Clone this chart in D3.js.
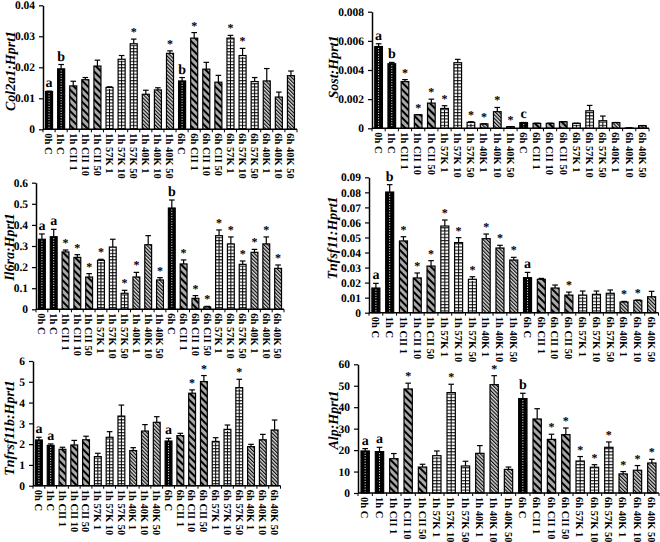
<!DOCTYPE html>
<html><head><meta charset="utf-8">
<script src="https://cdn.jsdelivr.net/npm/d3@7"></script>
<style>body{margin:0;background:#fff;-webkit-font-smoothing:antialiased}svg{text-rendering:geometricPrecision}text{font-family:"Liberation Serif","Times New Roman",serif;font-weight:bold;fill:#000}</style>
</head><body>
<svg id="c" width="660" height="542"></svg>
<script>
const categories = ["0h C","1h C","1h CII 1","1h CII 10","1h CII 50","1h 57K 1","1h 57K 10","1h 57K 50","1h 40K 1","1h 40K 10","1h 40K 50","6h C","6h CII 1","6h CII 10","6h CII 50","6h 57K 1","6h 57K 10","6h 57K 50","6h 40K 1","6h 40K 10","6h 40K 50"];

const col2a1Values = [0.0122,0.0195,0.0140,0.0160,0.0204,0.0135,0.0226,0.0276,0.0113,0.0127,0.0245,0.0156,0.0294,0.0194,0.0152,0.0294,0.0238,0.0154,0.0156,0.0104,0.0173];
const col2a1ErrTop = [0.0123,0.0209,0.0155,0.0167,0.0223,0.0137,0.0238,0.0291,0.0126,0.0134,0.0253,0.0167,0.0312,0.0216,0.0174,0.0303,0.0261,0.0167,0.0196,0.0120,0.0188];
const col2a1Marks = ["a","b","","","","","","*","","","*","b","*","","","*","*","","","",""];
const col2a1Ticks = [0,0.01,0.02,0.03,0.04];

const sostValues = [0.00561,0.00443,0.00320,0.00093,0.00173,0.00136,0.00450,0.00041,0.00030,0.00114,0.00011,0.00039,0.00034,0.00034,0.00045,0.00034,0.00120,0.00052,0.00039,0.00002,0.00018];
const sostErrTop = [0.00580,0.00452,0.00334,0.00094,0.00200,0.00155,0.00473,0.00045,0.00031,0.00143,0.00012,0.00040,0.00035,0.00035,0.00046,0.00035,0.00157,0.00084,0.00040,0.00003,0.00019];
const sostMarks = ["a","b","*","*","*","*","","*","*","*","*","c","","","","","","","","",""];
const sostTicks = [0,0.002,0.004,0.006,0.008];

const il6raValues = [0.332,0.344,0.272,0.246,0.153,0.232,0.295,0.076,0.153,0.306,0.139,0.480,0.215,0.052,0.011,0.349,0.310,0.213,0.270,0.310,0.194];
const il6raErrTop = [0.357,0.379,0.281,0.259,0.169,0.237,0.332,0.090,0.175,0.349,0.150,0.518,0.234,0.065,0.014,0.376,0.343,0.229,0.284,0.343,0.210];
const il6raMarks = ["a","a","*","*","*","*","","*","*","","*","b","*","*","*","*","*","*","*","*","*"];
const il6raTicks = [0,0.1,0.2,0.3,0.4,0.5,0.6];

const tnfsf11Values = [0.0164,0.0802,0.0477,0.0231,0.0310,0.0576,0.0466,0.0222,0.0492,0.0430,0.0350,0.0233,0.0222,0.0164,0.0117,0.0117,0.0122,0.0129,0.0071,0.0082,0.0106];
const tnfsf11ErrTop = [0.0195,0.0851,0.0505,0.0264,0.0346,0.0616,0.0499,0.0239,0.0523,0.0448,0.0368,0.0268,0.0228,0.0184,0.0137,0.0144,0.0144,0.0151,0.0075,0.0084,0.0142];
const tnfsf11Marks = ["a","b","*","*","*","*","*","*","*","*","*","a","","","*","","","","*","*",""];
const tnfsf11Ticks = [0,0.01,0.02,0.03,0.04,0.05,0.06,0.07,0.08,0.09];

const tnfrsf11bValues = [2.20,1.94,1.75,1.96,2.21,1.40,2.33,3.35,1.69,2.63,3.05,2.15,2.41,4.45,5.01,2.13,2.71,4.72,1.88,2.21,2.68];
const tnfrsf11bErrTop = [2.33,2.01,1.85,2.18,2.38,1.56,2.60,3.88,1.83,2.94,3.32,2.28,2.52,4.61,5.30,2.31,2.92,5.12,1.99,2.47,3.16];
const tnfrsf11bMarks = ["a","a","","","","","","","","","","a","","*","*","","","*","","",""];
const tnfrsf11bTicks = [0,1,2,3,4,5,6];

const alpValues = [19.6,19.3,16.0,48.5,12.1,17.4,46.8,12.6,18.5,50.5,11.0,44.0,34.5,25.0,27.2,14.9,12.0,21.3,8.9,10.6,14.0];
const alpErrTop = [20.7,21.3,18.4,51.2,13.4,19.6,50.7,14.8,22.1,54.7,12.1,46.5,39.3,27.4,30.3,17.0,13.2,23.8,10.0,12.8,15.7];
const alpMarks = ["a","a","","*","","","*","","","*","","b","","*","*","*","*","*","*","*","*"];
const alpTicks = [0,10,20,30,40,50,60];

const panels = [
  {title:"Col2a1:Hprt1", values:col2a1Values, err:col2a1ErrTop, marks:col2a1Marks, ticks:col2a1Ticks,
   x0:43, x1:297, y0:129.3, yTop:5.3, tx:10, ty:71},
  {title:"Sost:Hprt1", values:sostValues, err:sostErrTop, marks:sostMarks, ticks:sostTicks,
   x0:372, x1:649, y0:128.3, yTop:11.7, tx:333, ty:67},
  {title:"Il6ra:Hprt1", values:il6raValues, err:il6raErrTop, marks:il6raMarks, ticks:il6raTicks,
   x0:36, x1:284, y0:309.3, yTop:182.7, tx:9, ty:247},
  {title:"Tnfsf11:Hprt1", values:tnfsf11Values, err:tnfsf11ErrTop, marks:tnfsf11Marks, ticks:tnfsf11Ticks,
   x0:369, x1:658.5, y0:312.7, yTop:177.3, tx:332, ty:238},
  {title:"Tnfrsf11b:Hprt1", values:tnfrsf11bValues, err:tnfrsf11bErrTop, marks:tnfrsf11bMarks, ticks:tnfrsf11bTicks,
   x0:33, x1:280.5, y0:485.7, yTop:361, tx:9, ty:428},
  {title:"Alp:Hprt1", values:alpValues, err:alpErrTop, marks:alpMarks, ticks:alpTicks,
   x0:358, x1:659, y0:493, yTop:364.3, tx:333, ty:420}
];

function groupOf(c){
  if (c.includes("CII")) return "cii";
  if (c.includes("57K")) return "k57";
  if (c.includes("40K")) return "k40";
  return "ctrl";
}

const svg = d3.select("#c");
const defs = svg.append("defs");
let p = defs.append("pattern").attr("id","pCII").attr("patternUnits","userSpaceOnUse")
  .attr("width",5).attr("height",5).attr("patternTransform","rotate(-45)");
p.append("rect").attr("width",5).attr("height",5).attr("fill","#a9a9a9");
p.append("line").attr("x1",1).attr("x2",1).attr("y1",0).attr("y2",5).attr("stroke","#000").attr("stroke-width",2);
p = defs.append("pattern").attr("id","p40K").attr("patternUnits","userSpaceOnUse")
  .attr("width",2.6).attr("height",2.6).attr("patternTransform","rotate(-45)");
p.append("rect").attr("width",2.6).attr("height",2.6).attr("fill","#d8d8d8");
p.append("line").attr("x1",0.6).attr("x2",0.6).attr("y1",0).attr("y2",2.6).attr("stroke","#000").attr("stroke-width",1.1);
p = defs.append("pattern").attr("id","p57K").attr("patternUnits","userSpaceOnUse")
  .attr("width",4).attr("height",3.2);
p.append("rect").attr("width",4).attr("height",3.2).attr("fill","#fff");
p.append("line").attr("x1",0).attr("x2",4).attr("y1",0.6).attr("y2",0.6).attr("stroke","#000").attr("stroke-width",1);

const fills = {ctrl:"#000", cii:"url(#pCII)", k57:"url(#p57K)", k40:"url(#p40K)"};

panels.forEach(P => {
  const g = svg.append("g");
  const x = d3.scaleBand().domain(categories).range([P.x0, P.x1]).paddingInner(0.42).paddingOuter(0.21);
  const maxV = P.ticks[P.ticks.length-1];
  const y = d3.scaleLinear().domain([0, maxV]).range([P.y0, P.yTop]);
  const data = categories.map((c,i)=>({c, v:P.values[i], e:P.err[i], m:P.marks[i], grp:groupOf(c)}));
  const bw = x.bandwidth();

  g.selectAll("rect.bar").data(data).join("rect").attr("class","bar")
    .attr("x", d=>x(d.c)).attr("width", bw)
    .attr("y", d=>y(d.v)).attr("height", d=>y(0)-y(d.v))
    .attr("fill", d=>fills[d.grp]).attr("stroke","#000").attr("stroke-width",1.2);
  g.selectAll("line.ctr").data(data.filter(d=>d.grp==="ctrl" || d.grp==="k57")).join("line").attr("class","ctr")
    .attr("x1", d=>x(d.c)+bw/2).attr("x2", d=>x(d.c)+bw/2)
    .attr("y1", d=>y(d.v)+1.5).attr("y2", y(0)-1)
    .attr("stroke", d=>d.grp==="ctrl" ? "#fff" : "#000")
    .attr("stroke-width", 1)
    .attr("stroke-dasharray", d=>d.grp==="ctrl" ? "1,1.6" : null);

  const eb = data.filter(d=>d.e > d.v);
  g.selectAll("line.ev").data(eb).join("line").attr("class","ev")
    .attr("x1", d=>x(d.c)+bw/2).attr("x2", d=>x(d.c)+bw/2)
    .attr("y1", d=>y(d.v)).attr("y2", d=>y(d.e)).attr("stroke","#000").attr("stroke-width",1.2);
  g.selectAll("line.ec").data(eb).join("line").attr("class","ec")
    .attr("x1", d=>x(d.c)+bw/2-2.8).attr("x2", d=>x(d.c)+bw/2+2.8)
    .attr("y1", d=>y(d.e)).attr("y2", d=>y(d.e)).attr("stroke","#000").attr("stroke-width",1.2);

  g.selectAll("text.mk").data(data.filter(d=>d.m)).join("text").attr("class","mk")
    .attr("x", d=>x(d.c)+bw/2)
    .attr("y", d=>y(Math.max(d.e,d.v)) - (d.m==="*" ? 3 : 4))
    .attr("text-anchor","middle")
    .attr("fill","#000")
    .style("font-size", d=>d.m==="*" ? "12px" : "14px")
    .style("font-weight","bold")
    .text(d=>d.m);

  const ya = d3.axisLeft(y).tickValues(P.ticks).tickSize(4).tickSizeOuter(0).tickFormat(d=>String(d));
  const ag = g.append("g").attr("transform",`translate(${P.x0},0)`).call(ya);
  ag.select(".domain").attr("stroke","#000").attr("stroke-width",1.5);
  ag.selectAll(".tick line").attr("stroke","#000").attr("stroke-width",1.2);
  ag.selectAll(".tick text").attr("x",-8).style("font-size","11.5px").style("font-family",'"Liberation Serif",serif').style("font-weight","bold").attr("fill","#000");

  g.append("line").attr("x1",P.x0).attr("x2",P.x1).attr("y1",y(0)).attr("y2",y(0)).attr("stroke","#000").attr("stroke-width",1.5);
  const step = x.step();
  const edges = categories.map(c=>x(c) - (step-bw)/2).concat([P.x1]);
  g.selectAll("line.xt").data(edges).join("line").attr("class","xt")
    .attr("x1",d=>d).attr("x2",d=>d).attr("y1",y(0)).attr("y2",y(0)+3).attr("stroke","#000").attr("stroke-width",1);
  g.selectAll("text.xl").data(categories).join("text").attr("class","xl")
    .attr("transform", c=>`translate(${x(c)+bw/2},${y(0)+4}) rotate(90)`)
    .attr("dy","0.35em").style("font-size","10.5px").text(c=>c);

  g.append("text").attr("transform",`translate(${P.tx},${P.ty}) rotate(-90)`)
    .attr("text-anchor","middle").attr("dy","0.35em")
    .style("font-size","14px").style("font-style","italic").text(P.title);
});
</script>
</body></html>
